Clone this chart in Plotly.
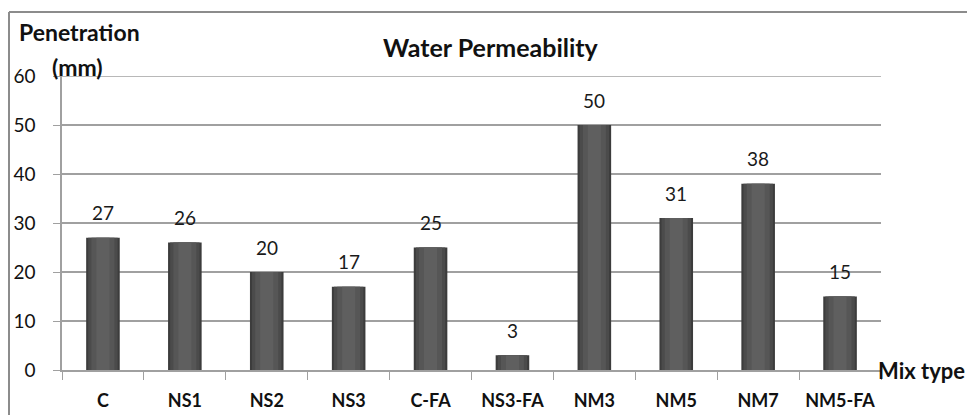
import plotly.graph_objects as go

categories = ["C", "NS1", "NS2", "NS3", "C-FA", "NS3-FA", "NM3", "NM5", "NM7", "NM5-FA"]
penetration = [27, 26, 20, 17, 25, 3, 50, 31, 38, 15]
y_ticks = [0, 10, 20, 30, 40, 50, 60]

W, H = 967, 415
ML, MR, MT, MB = 62, 86, 76, 45
PW, PH = W - ML - MR, H - MT - MB

def px_x(p):
    return (p - ML) / PW

def px_y(p):
    return (H - MB - p) / PH

FONT = "Lato, 'Open Sans', sans-serif"

fig = go.Figure()
# cylinder-like shading via overlaid bars of decreasing width
layers = [(0.41, "#3c3c3c"), (0.36, "#4b4b4b"), (0.28, "#565656"), (0.16, "#5f5f5f")]
for w, c in layers:
    fig.add_trace(go.Bar(
        x=categories, y=penetration, width=w,
        marker=dict(color=c, line=dict(width=0)),
        hoverinfo="skip", showlegend=False,
    ))

for cat, v in zip(categories, penetration):
    fig.add_annotation(
        x=cat, y=v, text=str(v), showarrow=False,
        yanchor="middle", yshift=25,
        font=dict(family=FONT, size=19, color="#1a1a1a"),
    )

fig.update_layout(
    width=W, height=H,
    margin=dict(l=ML, r=MR, t=MT, b=MB, autoexpand=False),
    paper_bgcolor="white", plot_bgcolor="white",
    barmode="overlay",
    showlegend=False,
    font=dict(family=FONT, color="#111"),
)

fig.update_xaxes(
    type="category", automargin=False,
    showgrid=False, showline=True, linecolor="#a0a0a0", linewidth=1.5,
    ticks="outside", ticklen=8, tickcolor="#a0a0a0",
    tickson="boundaries", ticklabelstandoff=14,
    tickfont=dict(family=FONT, size=18, color="#111", weight="bold"),
    zeroline=False,
)
fig.update_yaxes(
    range=[y_ticks[0], y_ticks[-1]], tickvals=y_ticks, automargin=False,
    showgrid=True, gridcolor="#a0a0a0", gridwidth=1.5,
    showline=True, linecolor="#a0a0a0", linewidth=1.5,
    ticks="outside", ticklen=7, tickcolor="#a0a0a0",
    ticklabelstandoff=14,
    tickfont=dict(family=FONT, size=19, color="#111"),
    zeroline=False,
)

# top gridline at the axis maximum
fig.add_shape(type="line", xref="paper", yref="y",
              x0=0, x1=1, y0=y_ticks[-1], y1=y_ticks[-1],
              line=dict(color="#a0a0a0", width=1.5), layer="below")

# chart title and axis titles
fig.add_annotation(xref="paper", yref="paper", x=px_x(491), y=px_y(47),
                   xanchor="center", yanchor="middle",
                   text="<b>Water Permeability</b>", showarrow=False,
                   font=dict(family=FONT, size=25, color="#111"))
fig.add_annotation(xref="paper", yref="paper", x=px_x(17), y=px_y(32),
                   xanchor="left", yanchor="middle",
                   text="<b>Penetration</b>", showarrow=False,
                   font=dict(family=FONT, size=23, color="#111"))
fig.add_annotation(xref="paper", yref="paper", x=px_x(50), y=px_y(67),
                   xanchor="left", yanchor="middle",
                   text="<b>(mm)</b>", showarrow=False,
                   font=dict(family=FONT, size=23, color="#111"))
fig.add_annotation(xref="paper", yref="paper", x=px_x(876), y=px_y(370),
                   xanchor="left", yanchor="middle",
                   text="<b>Mix type</b>", showarrow=False,
                   font=dict(family=FONT, size=22, color="#111"))

# outer chart border (top and left visible)
fig.add_shape(type="line", xref="paper", yref="paper",
              x0=px_x(9), x1=px_x(970), y0=px_y(12), y1=px_y(12),
              line=dict(color="#8c8c8c", width=2))
fig.add_shape(type="line", xref="paper", yref="paper",
              x0=px_x(9), x1=px_x(9), y0=px_y(12), y1=px_y(420),
              line=dict(color="#8c8c8c", width=2))

fig.write_html("out.html")
